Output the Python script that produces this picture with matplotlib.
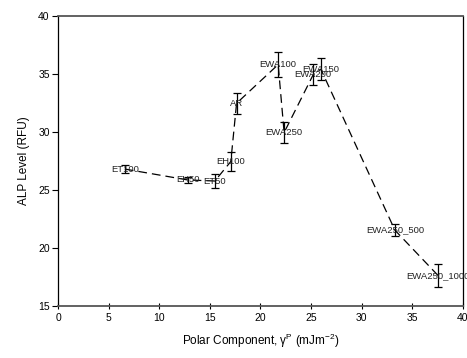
import matplotlib
matplotlib.use("Agg")
import matplotlib.pyplot as plt

plt.rcParams['font.family'] = ['Liberation Sans', 'DejaVu Sans']

# Data
labels = ["ET100", "EH50", "ET50", "EH100", "AR", "EWA100", "EWA250",
          "EWA200", "EWA150", "EWA250_500", "EWA250_1000"]
polar = [6.6, 12.83, 15.5, 17.08, 17.65, 21.76, 22.35, 25.22, 25.98, 33.3, 37.59]
alp = [26.78, 25.84, 25.75, 27.43, 32.45, 35.79, 29.93, 34.91, 35.39, 21.51, 17.58]
alp_err = [0.35, 0.25, 0.6, 0.8, 0.9, 1.1, 0.93, 0.9, 0.93, 0.5, 1.0]

fig = plt.figure(figsize=(4.67, 3.58), dpi=100)
ax = fig.add_axes([0.1242, 0.1461, 0.8666, 0.81])

ax.errorbar(polar, alp, yerr=alp_err, color='black', linestyle=(0, (7, 4)),
            linewidth=0.9, capsize=3, elinewidth=0.9, capthick=0.9)

for lab, x, y in zip(labels, polar, alp):
    ax.text(x, y, lab, ha='center', va='center', fontsize=6.8, color='#222222')

ax.set_xlim(0, 40)
ax.set_ylim(15, 40)
ax.set_xticks(range(0, 41, 5))
ax.set_yticks(range(15, 41, 5))
ax.tick_params(axis='y', direction='out', length=4, width=0.8, labelsize=7.5, pad=2)
ax.tick_params(axis='x', direction='inout', length=5, width=0.8, labelsize=7.5, pad=3)

ax.spines['top'].set_color('#555555')
ax.spines['top'].set_linewidth(1.3)
ax.spines['bottom'].set_color('#555555')
ax.spines['bottom'].set_linewidth(1.3)
ax.spines['left'].set_linewidth(0.9)
ax.spines['right'].set_linewidth(0.9)

ax.set_xlabel('Polar Component, γ$^{\\mathregular{P}}$ (mJm$^{\\mathregular{-2}}$)',
              fontsize=8.5, labelpad=6)
ax.set_ylabel('ALP Level (RFU)', fontsize=8.5, labelpad=6)

fig.savefig("out.png", dpi=100)
